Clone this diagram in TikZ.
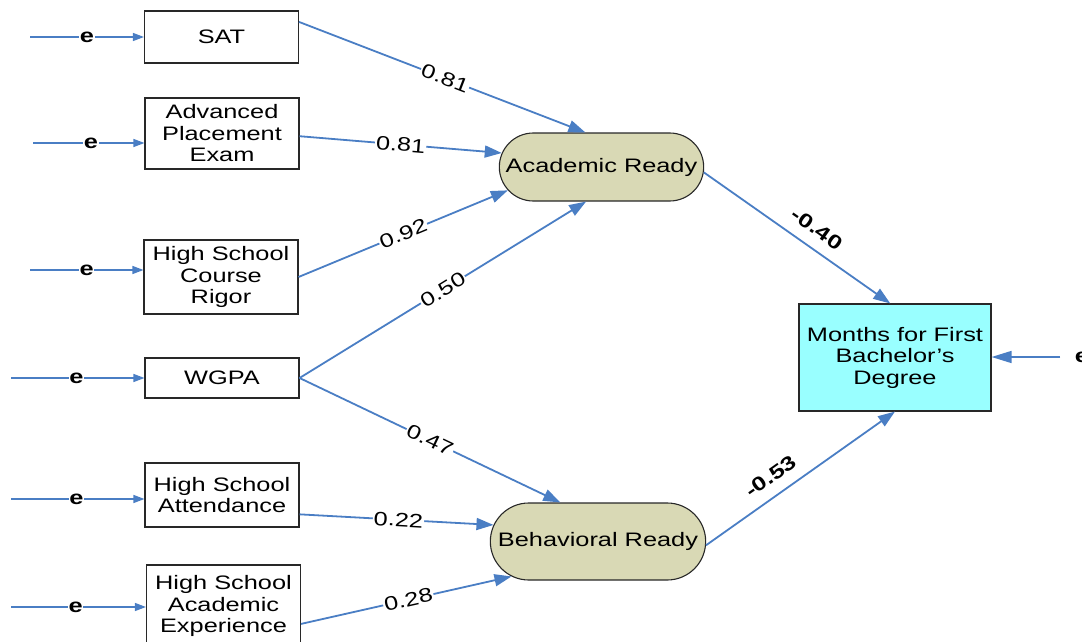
\documentclass[tikz,border=0pt]{standalone}
\usepackage{fontspec}
\setmainfont{Liberation Sans}[FakeStretch=1.3]
\usepackage{tikz}
\usetikzlibrary{arrows.meta,shapes.misc}

\definecolor{pathblue}{RGB}{74,126,196}
\definecolor{latentfill}{RGB}{217,217,181}
\definecolor{outfill}{RGB}{153,255,255}
\definecolor{boxline}{RGB}{40,40,40}

\begin{document}
\begin{tikzpicture}[x=1pt,y=-1pt,font=\fontsize{19.5}{21.5}\selectfont]
	\useasboundingbox (0,0) rectangle (1082,642);
	\begin{scope}[every node/.style={rectangle,draw=boxline,line width=1.1pt,align=center,inner sep=2pt,minimum width=154pt}]
		\node[minimum height=52pt] (sat) at (221.5,37) {SAT};
		\node[minimum height=71pt] (ap) at (222,133.5) {Advanced\\Placement\\Exam};
		\node[minimum height=74pt] (hscr) at (221,277) {High School\\Course\\Rigor};
		\node[minimum height=40pt] (wgpa) at (222,378) {WGPA};
		\node[minimum height=64pt] (hsa) at (222,495) {High School\\Attendance};
		\node[minimum height=82pt] (hsae) at (223.5,606) {High School\\Academic\\Experience};
		\node[fill=outfill,minimum width=192pt,minimum height=107pt] (mon) at (895,357.5) {Months for First\\Bachelor’s\\Degree};
	\end{scope}
	\begin{scope}[every node/.style={rounded rectangle,draw=boxline,line width=1.1pt,fill=latentfill}]
		\node[minimum width=211pt,minimum height=68pt] (ar) at (601.5,167) {Academic Ready};
		\node[minimum width=222pt,minimum height=77pt] (br) at (598,541.5) {Behavioral Ready};
	\end{scope}
	% error terms
	\coordinate (e1) at (30,37);
	\coordinate (e2) at (33,143);
	\coordinate (e3) at (30,270);
	\coordinate (e4) at (11,378);
	\coordinate (e5) at (11,499);
	\coordinate (e6) at (11,607);
	\coordinate (e7) at (1060,357);
	\begin{scope}[>={Triangle[length=11pt,width=8pt]},
	              every node/.style={fill=white,inner sep=0.5pt,font=\fontsize{19.5}{21.5}\selectfont\bfseries},
	              every edge/.style={draw=pathblue,line width=1.2pt}]
		\path [->] (e1) edge node {e} (e1 -| sat.west);
		\path [->] (e2) edge node[pos=0.52] {e} (e2 -| ap.west);
		\path [->] (e3) edge node {e} (e3 -| hscr.west);
		\path [->] (e4) edge node[pos=0.49] {e} (e4 -| wgpa.west);
		\path [->] (e5) edge node[pos=0.49] {e} (e5 -| hsa.west);
		\path [->] (e6) edge node[pos=0.48] {e} (e6 -| hsae.west);
	\end{scope}
	\node[font=\fontsize{19.5}{21.5}\selectfont\bfseries] (e7lab) at (1082,357) {e};
	\draw [-{Triangle[length=20pt,width=12pt]},draw=pathblue,fill=pathblue,line width=1.5pt] (e7) -- (e7 -| mon.east);
	% paths
	\begin{scope}[>={Triangle[length=17pt,width=12pt]},
	              every node/.style={fill=white,sloped,inner sep=1pt},
	              every edge/.style={draw=pathblue,line width=1.8pt}]
		\path [->] (sat.11) edge node[pos=0.51] {0.81} (ar.115);
		\path [->] (ap.-2) edge node {0.81} (ar.172);
		\path [->] (hscr.east) edge node {0.92} (ar.194);
		\path [->] (wgpa.east) edge node {0.50} (ar.246);
		\path [->] (wgpa.east) edge node {0.47} (br.134);
		\path [->] (hsa.-14) edge node[pos=0.51] {0.22} (br.171);
		\path [->] (hsae.-13) edge node[pos=0.51] {0.28} (br.202);
		\path [->] (ar.-3) edge node[pos=0.55,above=10pt,fill=none,font=\fontsize{19.5}{21.5}\selectfont\bfseries] {-0.40} (mon.95);
		\path [->] (br.-2) edge node[pos=0.4,above=10pt,fill=none,font=\fontsize{19.5}{21.5}\selectfont\bfseries] {-0.53} (mon.south);
	\end{scope}
\end{tikzpicture}
\end{document}
